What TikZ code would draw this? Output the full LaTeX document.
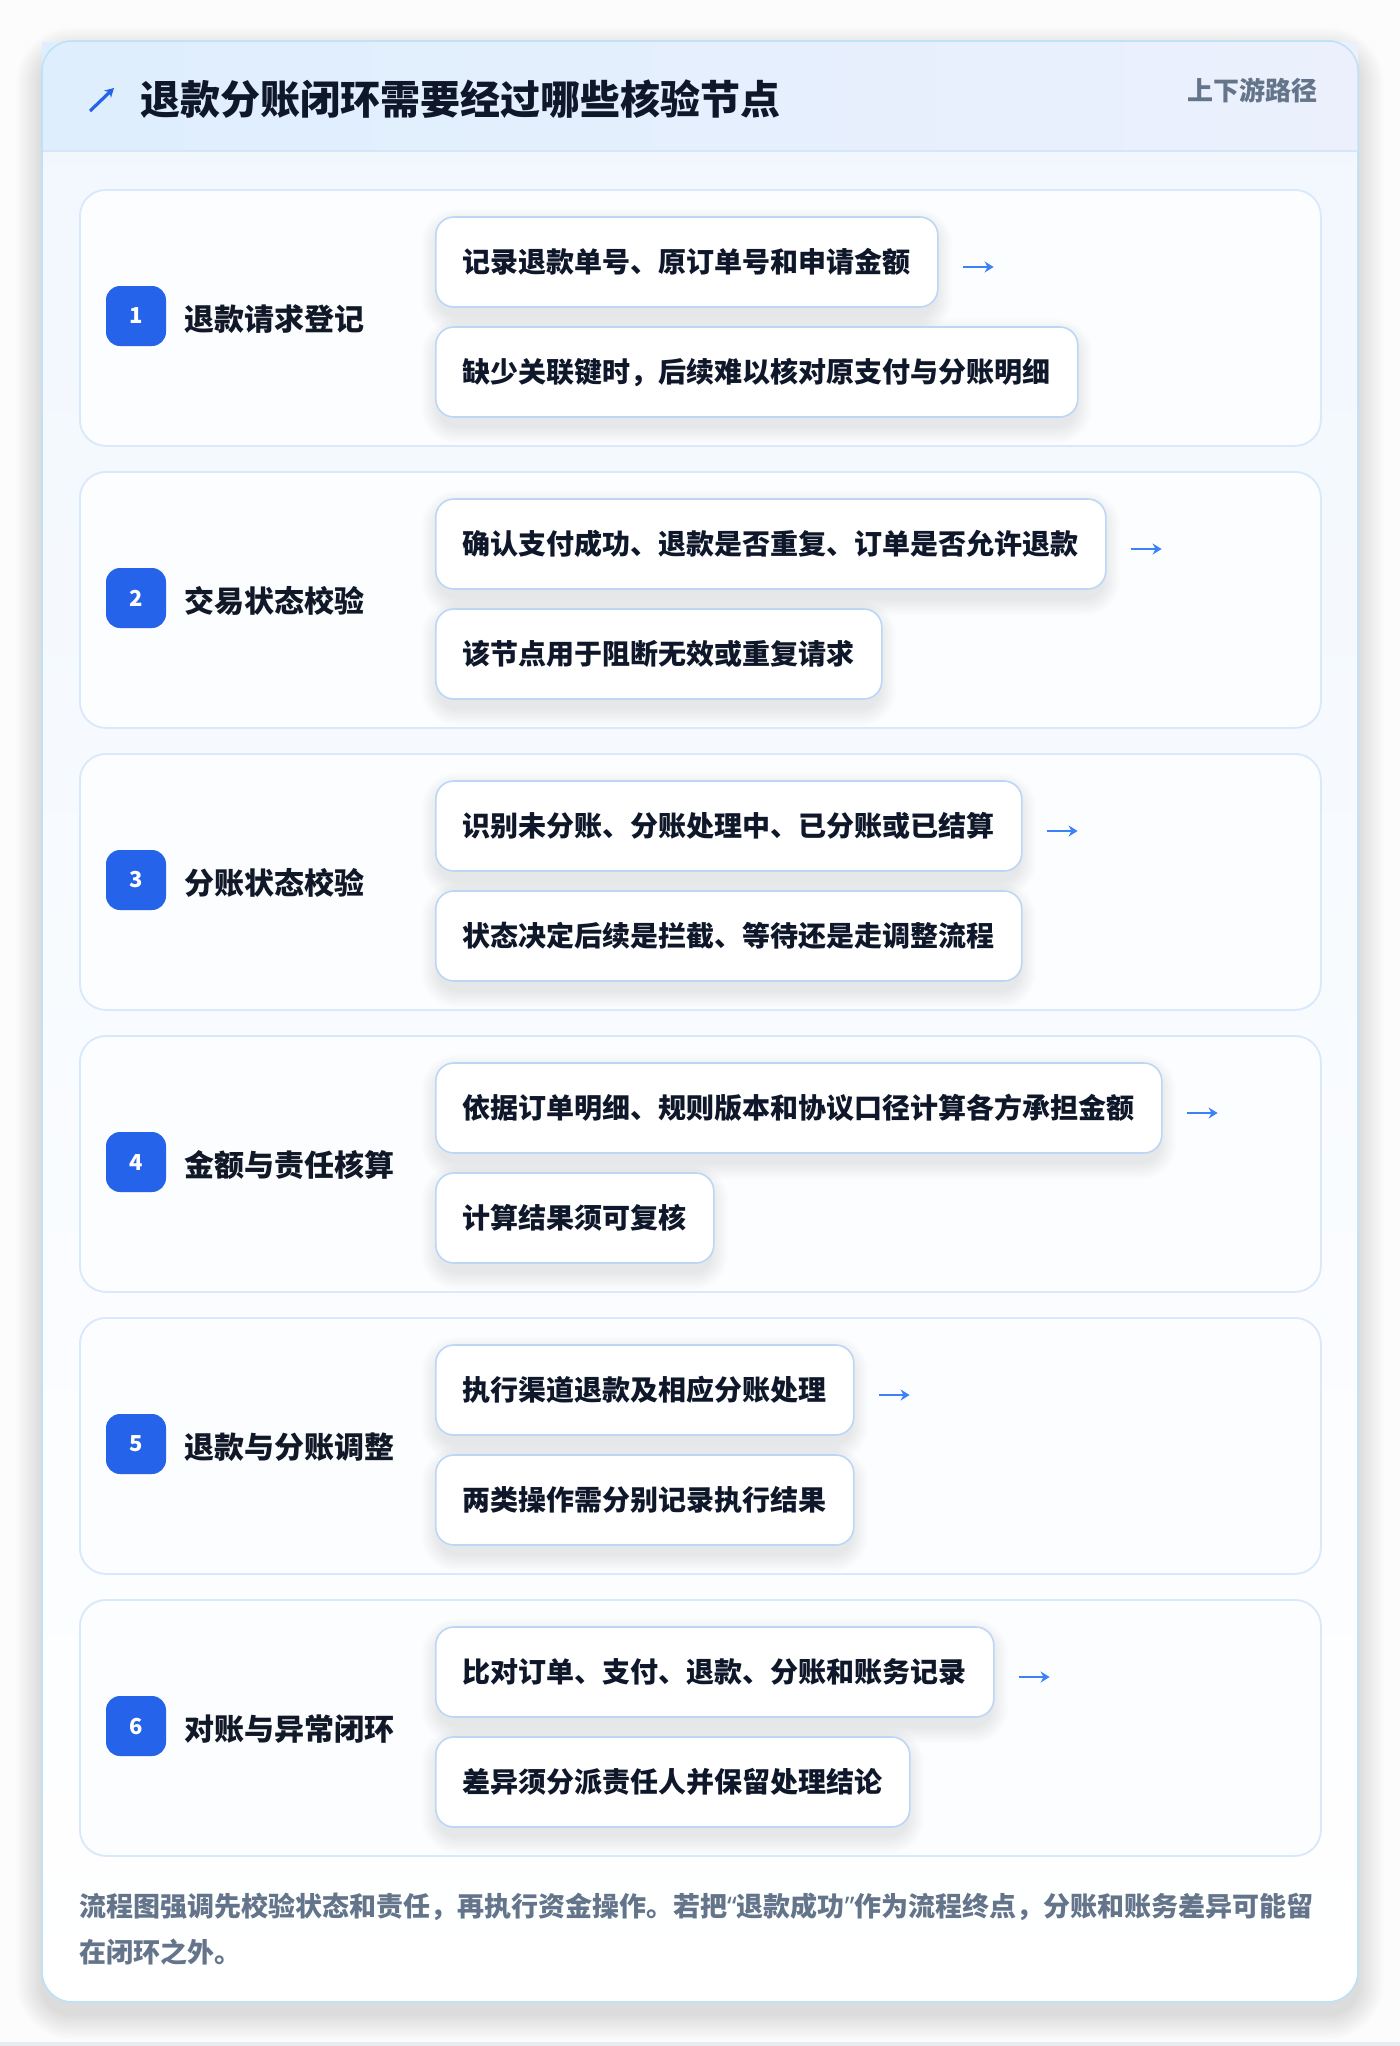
\documentclass[tikz,border=0pt]{standalone}
\usepackage{fontspec}
\setmainfont{Noto Sans CJK SC}
\newfontfamily\latinq{Noto Sans}
\usetikzlibrary{arrows.meta}
\definecolor{pagebg}{HTML}{FCFCFD}
\definecolor{pageline}{HTML}{E8EBEF}
\definecolor{cardborder}{HTML}{BFE1F6}
\definecolor{cardtop}{HTML}{F1F7FE}
\definecolor{headleft}{HTML}{DEEEFD}
\definecolor{headright}{HTML}{ECF0FD}
\definecolor{headline}{HTML}{D5E6FA}
\definecolor{stepborder}{HTML}{D9E8FA}
\definecolor{stepfill}{HTML}{FBFDFF}
\definecolor{detborder}{HTML}{BDD6F5}
\definecolor{badgeblue}{HTML}{2563EB}
\definecolor{textdark}{HTML}{0F172A}
\definecolor{labeldark}{HTML}{111827}
\definecolor{subgray}{HTML}{64748B}
\definecolor{arrowblue}{HTML}{3B82F6}
\definecolor{shadowc}{HTML}{1E293B}
\pgfdeclarelayer{pagelayer}
\pgfdeclarelayer{cardlayer}
\pgfdeclarelayer{shadowlayer}
\pgfsetlayers{pagelayer,cardlayer,shadowlayer,main}
\begin{document}
\begin{tikzpicture}[x=1pt,y=-1pt,
  stepcard/.style={draw=stepborder, line width=1.8pt, fill=stepfill, rounded corners=26pt,
    anchor=north west, minimum width=1241pt, minimum height=256pt, inner sep=0pt},
  detail/.style={draw=detborder, line width=1.6pt, fill=white, rounded corners=18pt,
    anchor=west, minimum height=90pt, inner xsep=27pt, inner ysep=0pt,
    text height=23pt, text depth=2pt,
    font=\fontsize{28}{34}\selectfont\bfseries, text=textdark},
  badge/.style={fill=badgeblue, rounded corners=14pt, minimum size=60pt, inner sep=0pt,
    text=white, font=\fontsize{22}{22}\selectfont\bfseries},
  steplabel/.style={anchor=base west, inner sep=0pt, font=\fontsize{30}{36}\selectfont\bfseries, text=labeldark},
  foottext/.style={anchor=base west, inner sep=0pt, font=\fontsize{27}{32}\selectfont\bfseries, text=subgray},
  nextarrow/.style={draw=arrowblue, line width=2.6pt, -{Stealth[length=9pt,width=11pt]}},
  softshadow/.style={fill=shadowc, opacity=0.008}
]
\useasboundingbox (0,0) rectangle (1400,2046);
\begin{pgfonlayer}{pagelayer}
\fill[pagebg] (0,0) rectangle (1400,2046);
\fill[pageline] (0,2042) rectangle (1400,2046);
% outer card soft shadow
\foreach \k in {1,...,16}{
  \fill[softshadow, opacity=0.007, rounded corners={30pt+1.6pt*\k}]
    ({42-1.6*\k},{53-1.6*\k}) rectangle ({1358+1.6*\k},{2014+1.6*\k});
}
% outer card
\path[draw=cardborder, line width=1.5pt, rounded corners=30pt, top color=cardtop, bottom color=white]
  (42,41) rectangle (1358,2002);
\shade[left color=headleft, right color=headright] (42,42) rectangle (1358,151);
\draw[headline, line width=2pt] (43,151) -- (1357,151);
\draw[cardborder, line width=1.5pt, rounded corners=30pt] (42,41) rectangle (1358,2002);
\end{pgfonlayer}

% header
\coordinate (icA) at (90,111);
\coordinate (icB) at (114,88);
\draw[badgeblue, line width=3.2pt, -{Stealth[length=9pt,width=10pt]}] (icA) -- (icB);
\node[anchor=base west, inner sep=0pt, font=\fontsize{40}{46}\selectfont\bfseries, text=textdark] (title) at (140,114) {退款分账闭环需要经过哪些核验节点};
\node[anchor=base east, inner sep=0pt, font=\fontsize{26}{30}\selectfont\bfseries, text=subgray] (sub) at (1318,100) {上下游路径};

% steps
\foreach \i/\lab/\ta/\tb in {
 1/退款请求登记/记录退款单号、原订单号和申请金额/缺少关联键时，后续难以核对原支付与分账明细,
 2/交易状态校验/确认支付成功、退款是否重复、订单是否允许退款/该节点用于阻断无效或重复请求,
 3/分账状态校验/识别未分账、分账处理中、已分账或已结算/状态决定后续是拦截、等待还是走调整流程,
 4/金额与责任核算/依据订单明细、规则版本和协议口径计算各方承担金额/计算结果须可复核,
 5/退款与分账调整/执行渠道退款及相应分账处理/两类操作需分别记录执行结果,
 6/对账与异常闭环/比对订单、支付、退款、分账和账务记录/差异须分派责任人并保留处理结论}{
  \pgfmathsetmacro\yy{189+(\i-1)*282}
  \begin{pgfonlayer}{cardlayer}
  \node[stepcard] (card\i) at (79,\yy) {};
  \end{pgfonlayer}
  \node[badge] (badge\i) at (136,\yy+127) {\i};
  \node[steplabel] (lab\i) at (184,\yy+141) {\lab};
  \node[detail] (da\i) at (435,\yy+73) {\ta};
  \node[detail] (db\i) at (435,\yy+183) {\tb};
  \begin{pgfonlayer}{shadowlayer}
  \foreach \d in {da\i,db\i}{
    \foreach \k in {1,...,11}{
      \fill[softshadow, rounded corners={18pt+1.6pt*\k}]
        ([shift={({-1.6*\k+4},{10-1.6*\k})}]\d.north west) rectangle ([shift={({1.6*\k-4},{8+1.6*\k})}]\d.south east);
    }
  }
  \end{pgfonlayer}
  \coordinate (as\i) at ([xshift=24pt,yshift=-5pt]da\i.east);
  \coordinate (ae\i) at ([xshift=55pt,yshift=-5pt]da\i.east);
  \draw[nextarrow] (as\i) -- (ae\i);
}

% footer
\node[foottext] (foot1) at (79,1916) {流程图强调先校验状态和责任，再执行资金操作。若把{\latinq\bfseries “}退款成功{\latinq\bfseries ”}作为流程终点，分账和账务差异可能留};
\node[foottext] (foot2) at (79,1962) {在闭环之外。};
\end{tikzpicture}
\end{document}
